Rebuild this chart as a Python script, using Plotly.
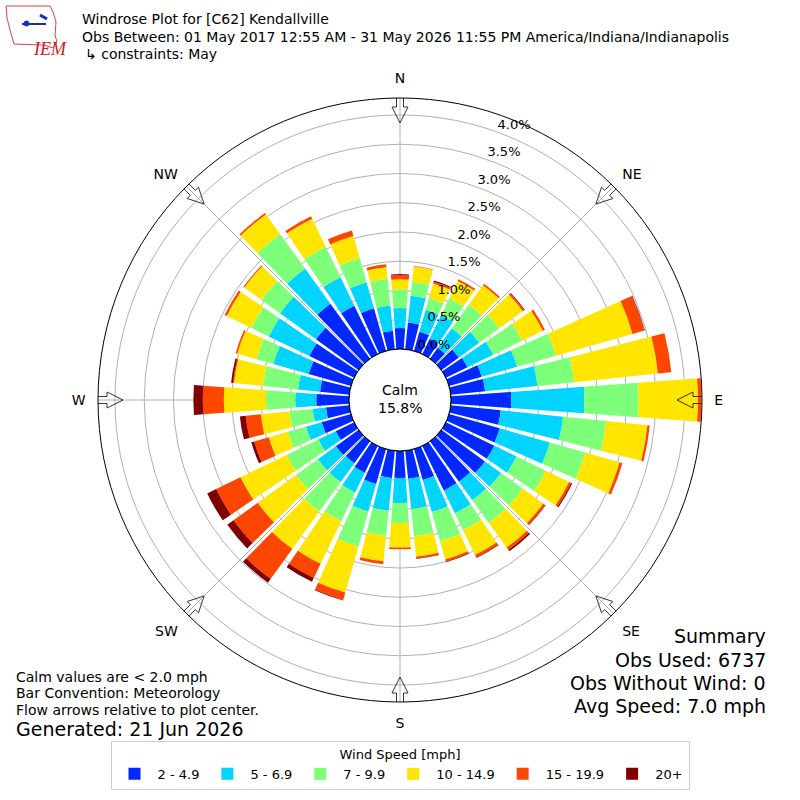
import math
import plotly.graph_objects as go

# --- Daten (Prozent je Richtung, 10-Grad-Sektoren) ---
DIRECTIONS = list(range(0, 360, 10))
SPEED_BINS = ["2 - 4.9", "5 - 6.9", "7 - 9.9", "10 - 14.9", "15 - 19.9", "20+"]
BIN_COLORS = ["#0028ff", "#00d4ff", "#7dff7a", "#ffe500", "#ff4600", "#800000"]

pct_2_5 = [0.36, 0.46, 0.34, 0.29, 0.23, 0.37, 0.41, 0.58, 0.59, 1.03,
           0.86, 0.90, 0.92, 0.92, 0.85, 0.85, 0.55, 0.48, 0.46, 0.47,
           0.62, 0.51, 0.46, 0.48, 0.35, 0.52, 0.40, 0.56, 0.50, 0.75,
           0.85, 0.90, 1.16, 0.92, 0.76, 0.32]
pct_5_7 = [0.34, 0.46, 0.39, 0.45, 0.41, 0.43, 0.49, 0.63, 0.90, 1.25,
           1.07, 0.89, 0.42, 0.34, 0.39, 0.43, 0.57, 0.52, 0.43, 0.56,
           0.49, 0.38, 0.40, 0.38, 0.33, 0.28, 0.23, 0.36, 0.38, 0.63,
           0.77, 0.76, 0.74, 0.54, 0.46, 0.43]
pct_7_10 = [0.32, 0.24, 0.21, 0.32, 0.50, 0.42, 0.55, 0.69, 0.63, 0.93,
            0.74, 0.63, 0.56, 0.46, 0.48, 0.32, 0.52, 0.47, 0.34, 0.43,
            0.62, 0.54, 0.62, 0.46, 0.60, 0.32, 0.40, 0.50, 0.60, 0.30,
            0.33, 0.39, 0.73, 0.58, 0.43, 0.46]
pct_10_15 = [0.17, 0.26, 0.26, 0.33, 0.41, 0.50, 0.39, 1.36, 1.44, 1.01,
             0.71, 0.61, 0.44, 0.43, 0.52, 0.47, 0.32, 0.35, 0.42, 0.44,
             0.82, 0.81, 0.79, 0.81, 0.88, 0.34, 0.49, 0.72, 0.50, 0.34,
             0.47, 0.36, 0.41, 0.53, 0.39, 0.20]
pct_15_20 = [0.07, 0.01, 0.03, 0.03, 0.03, 0.03, 0.04, 0.21, 0.23, 0.06,
             0.04, 0.05, 0.04, 0.04, 0.05, 0.05, 0.04, 0.03, 0.03, 0.05,
             0.13, 0.27, 0.63, 0.51, 0.46, 0.26, 0.26, 0.36, 0.02, 0.03,
             0.04, 0.02, 0.03, 0.05, 0.10, 0.05]
pct_20p = [0.02, 0.00, 0.02, 0.00, 0.00, 0.01, 0.00, 0.01, 0.00, 0.00,
           0.00, 0.00, 0.02, 0.01, 0.03, 0.01, 0.01, 0.01, 0.00, 0.00,
           0.01, 0.07, 0.08, 0.13, 0.17, 0.05, 0.10, 0.16, 0.03, 0.00,
           0.00, 0.00, 0.00, 0.00, 0.00, 0.00]
SERIES = [pct_2_5, pct_5_7, pct_7_10, pct_10_15, pct_15_20, pct_20p]

R_TICKS = [0.0, 0.5, 1.0, 1.5, 2.0, 2.5, 3.0, 3.5, 4.0]
COMPASS = ["N", "NE", "E", "SE", "S", "SW", "W", "NW"]
COMPASS_DEG = [0, 45, 90, 135, 180, 225, 270, 315]

CALM_PCT = 15.8
OBS_USED = 6737
OBS_NO_WIND = 0
AVG_SPEED = 7.0

TITLE_LINES = [
    "Windrose Plot for [C62] Kendallville",
    "Obs Between: 01 May 2017 12:55 AM - 31 May 2026 11:55 PM America/Indiana/Indianapolis",
    "↳ constraints: May",
]
NOTE_LINES = [
    "Calm values are < 2.0 mph",
    "Bar Convention: Meteorology",
    "Flow arrows relative to plot center.",
]
SUMMARY_LINES = [
    "Summary",
    f"Obs Used: {OBS_USED}",
    f"Obs Without Wind: {OBS_NO_WIND}",
    f"Avg Speed: {AVG_SPEED:.1f} mph",
]

# --- Geometrie des Polardiagramms (Pixel) ---
R_MAX = 4.29
OUTER_PX = 302.0
HOLE_PX = 51.0
FONT = "DejaVu Sans"
GRID = "#b0b0b0"
W = H = 800


def px_to_r(px):
    return (px - HOLE_PX) / (OUTER_PX - HOLE_PX) * R_MAX


def arrow_outline(deg):
    # hohler Pfeil, zeigt zur Mitte; (radial, quer) in Pixel
    tpl = [(308, -3.5), (293, -3.5), (293, -8), (277, 0), (293, 8),
           (293, 3.5), (308, 3.5), (308, -3.5)]
    rr, tt = [], []
    for s, t in tpl:
        rr.append(px_to_r(math.hypot(s, t)))
        tt.append(deg + math.degrees(math.atan2(t, s)))
    return rr, tt


def px(x, y):
    return x / W, 1 - y / H


def text_at(fig, x, y, text, size=14, anchor="left", **kw):
    px_, py_ = px(x, y)
    fig.add_annotation(x=px_, y=py_, xref="paper", yref="paper",
                       xanchor=anchor, yanchor="middle", showarrow=False,
                       align=anchor if anchor != "center" else "center",
                       text=text, font=dict(family=FONT, size=size, color="black"), **kw)


fig = go.Figure()

for name, vals, col in zip(SPEED_BINS, SERIES, BIN_COLORS):
    fig.add_trace(go.Barpolar(
        r=vals, theta=DIRECTIONS, width=8.3, name=name,
        marker=dict(color=col, line=dict(width=0)),
        hoverinfo="skip",
    ))

# Kreis um das Calm-Feld
fig.add_trace(go.Scatterpolar(
    r=[0] * 73, theta=list(range(0, 365, 5)), mode="lines",
    line=dict(color="black", width=1), showlegend=False, hoverinfo="skip",
    cliponaxis=False,
))

# Pfeile an den Himmelsrichtungen
for d in COMPASS_DEG:
    rr, tt = arrow_outline(d)
    fig.add_trace(go.Scatterpolar(
        r=rr, theta=tt, mode="lines", line=dict(color="#333333", width=1),
        showlegend=False, hoverinfo="skip", cliponaxis=False,
    ))

# Beschriftung der Ringe
fig.add_trace(go.Scatterpolar(
    r=R_TICKS, theta=[20] * len(R_TICKS), mode="text",
    text=[f"{v:.1f}%" for v in R_TICKS], textposition="top right",
    textfont=dict(family=FONT, size=13, color="black"),
    showlegend=False, hoverinfo="skip", cliponaxis=False,
))

lo, hi = 98 / 800, 702 / 800
fig.update_layout(
    width=W, height=H,
    margin=dict(l=0, r=0, t=0, b=0),
    paper_bgcolor="white",
    font=dict(family=FONT, size=14, color="black"),
    polar=dict(
        domain=dict(x=[lo, hi], y=[lo, hi]),
        bgcolor="white",
        hole=HOLE_PX / OUTER_PX,
        barmode="stack",
        radialaxis=dict(range=[0, R_MAX], tickvals=R_TICKS, showticklabels=False,
                        ticks="", showline=False, gridcolor=GRID, gridwidth=1),
        angularaxis=dict(rotation=90, direction="clockwise",
                         tickvals=COMPASS_DEG, ticktext=COMPASS,
                         ticks="outside", ticklen=9, tickcolor="rgba(0,0,0,0)",
                         tickfont=dict(family=FONT, size=14),
                         showgrid=True, gridcolor=GRID, gridwidth=1,
                         showline=True, linecolor="black", linewidth=1),
    ),
    legend=dict(
        orientation="h", x=0.5, xanchor="center", y=10 / 800, yanchor="bottom",
        title=dict(text="Wind Speed [mph]", side="top center",
                   font=dict(family=FONT, size=13)),
        font=dict(family=FONT, size=13),
        bordercolor="#cccccc", borderwidth=1, bgcolor="white",
        itemwidth=36, traceorder="normal",
    ),
)

# Titel
for (yy, xx), line in zip([(19, 80), (37, 80), (54, 83)], TITLE_LINES):
    text_at(fig, xx, yy, line, size=14)

# Logo (vereinfacht): Umriss, Symbol, Schrift
logo_pts = [(6, 6), (50, 6), (53, 12), (56, 22), (55, 35), (57, 42), (53, 48),
            (44, 45), (14, 44), (10, 30), (7, 18)]
path = "M " + " L ".join(f"{x / W:.4f} {1 - y / H:.4f}" for x, y in logo_pts) + " Z"
fig.add_shape(type="path", xref="paper", yref="paper", path=path,
              line=dict(color="#e04040", width=1), fillcolor="rgba(0,0,0,0)")
x0, y0 = px(22, 24)
x1, y1 = px(46, 24)
fig.add_shape(type="line", xref="paper", yref="paper", x0=x0, y0=y0, x1=x1, y1=y1,
              line=dict(color="#1a2bb8", width=2))
x0, y0 = px(40, 15)
x1, y1 = px(47, 19)
fig.add_shape(type="line", xref="paper", yref="paper", x0=x0, y0=y0, x1=x1, y1=y1,
              line=dict(color="#1a2bb8", width=3))
x0, y0 = px(24, 21)
x1, y1 = px(29, 26)
fig.add_shape(type="circle", xref="paper", yref="paper", x0=x0, y0=y0, x1=x1, y1=y1,
              line=dict(color="#1a2bb8", width=1), fillcolor="#1a2bb8")
lx, ly = px(31, 37)
fig.add_annotation(x=lx, y=ly, xref="paper", yref="paper", showarrow=False,
                   text="<i>IEM</i>",
                   font=dict(family="Liberation Serif", size=18, color="#cc2222"))

# Calm in der Mitte
text_at(fig, 400, 390, "Calm", size=14, anchor="center")
text_at(fig, 400, 408, f"{CALM_PCT:.1f}%", size=14, anchor="center")

# Hinweise unten links
for yy, line in zip([677, 693, 710], NOTE_LINES):
    text_at(fig, 14, yy, line, size=14)
text_at(fig, 14, 729, "Generated: 21 Jun 2026", size=19)

# Zusammenfassung unten rechts
for yy, line in zip([636, 660, 683, 706], SUMMARY_LINES):
    text_at(fig, 768, yy, line, size=19, anchor="right")

fig.write_html("out.html", config={"displayModeBar": False},
               post_script="document.body.style.margin='0';")
